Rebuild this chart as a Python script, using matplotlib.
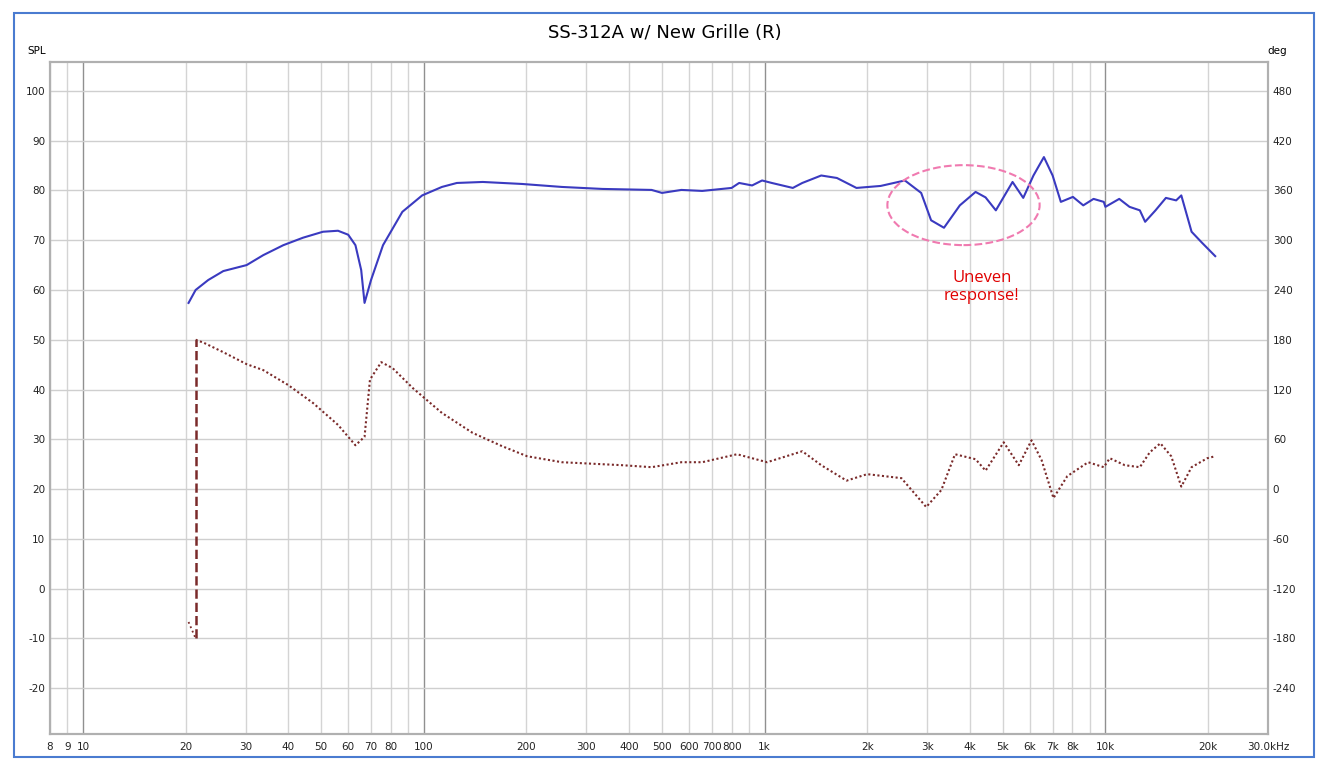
import matplotlib.pyplot as plt
from matplotlib.patches import Ellipse, Rectangle

plt.rcParams['axes.unicode_minus'] = False

# SPL magnitude (Hz, dB)
spl_f = [20.4, 21.4, 23.3, 25.8, 30.2, 33.8, 38.7, 44.2, 50.6, 56, 60, 63, 65.5, 67, 70, 75.9,
         86.5, 98.9, 113, 125, 149, 194, 254, 334, 466, 500, 570, 656, 800, 842, 919, 983, 1050,
         1210, 1290, 1466, 1630, 1860, 2190, 2580, 2880, 3080, 3360, 3740, 4160, 4450, 4770,
         5340, 5740, 6150, 6600, 7000, 7400, 8030, 8610, 9230, 9890, 10000, 10980, 11770,
         12620, 13080, 14030, 15050, 16130, 16700, 17900, 19200, 21000]
spl_db = [57.4, 60, 62, 63.8, 65, 67, 69, 70.5, 71.7, 71.9, 71.1, 69, 64, 57.4, 62, 69,
          75.7, 79, 80.7, 81.5, 81.7, 81.3, 80.7, 80.3, 80.1, 79.5, 80.1, 79.9, 80.5, 81.5, 81,
          82, 81.5, 80.5, 81.5, 83, 82.5, 80.5, 80.9, 82, 79.5, 74, 72.5, 77, 79.7, 78.6, 76,
          81.7, 78.5, 83, 86.7, 83, 77.7, 78.7, 77, 78.3, 77.7, 76.7, 78.3, 76.7,
          76, 73.7, 76, 78.5, 78, 79, 71.7, 69.5, 66.8]

# phase (Hz, deg), wrapped at ~21.4 Hz
ph_f = [20.4, 21.4, 21.4, 22.6, 25.8, 30.2, 33.8, 40, 47.3, 56, 63, 67, 69.5, 75, 81, 92.8,
        113, 139, 170, 201, 254, 382, 466, 570, 656, 830, 919, 1017, 1290, 1466, 1740, 2000,
        2520, 2980, 3300, 3620, 4160, 4450, 5030, 5570, 6070, 6500, 7040, 7730, 8900, 9890,
        10300, 11400, 12620, 13500, 14500, 15600, 16700, 17900, 19900, 21000]
ph_spl = [-6.7, -10, 50, 49.4, 47.5, 45.1, 43.9, 40.9, 37.3, 32.9, 28.8, 30.5, 42, 45.5, 44.3,
          40.3, 35.3, 31.3, 28.6, 26.6, 25.4, 24.8, 24.4, 25.4, 25.4, 27, 26.2, 25.4, 27.6,
          24.8, 21.7, 23, 22.2, 16.4, 19.8, 27, 26, 23.7, 29.4, 24.8, 29.8, 25.8, 18.2, 22.6,
          25.4, 24.4, 26.2, 24.8, 24.4, 27.4, 29.2, 26.6, 20.5, 24.4, 26.2, 26.6]
ph_deg = [(v - 20) * 6 for v in ph_spl]

x_ticks = [8, 9, 10, 20, 30, 40, 50, 60, 70, 80, 100, 200, 300, 400, 500, 600, 700, 800,
           1000, 2000, 3000, 4000, 5000, 6000, 7000, 8000, 10000, 20000, 30000]
x_labels = ['8', '9', '10', '20', '30', '40', '50', '60', '70', '80', '100', '200', '300',
            '400', '500', '600', '700', '800', '1k', '2k', '3k', '4k', '5k', '6k', '7k', '8k',
            '10k', '20k', '30.0kHz']

fig = plt.figure(figsize=(13.3, 7.73), dpi=100)
fig.patches.append(Rectangle((14 / 1330, 16 / 773), 1300 / 1330, 744 / 773, transform=fig.transFigure,
                             fill=False, edgecolor='#4a7bd0', linewidth=1.5))
ax = fig.add_axes([50 / 1330, 39 / 773, 1218 / 1330, 672 / 773])
ax.set_xscale('log')
ax.set_xlim(8.2, 30000)
ax.set_ylim(-29.2, 105.8)

# grid
for dec in [10, 100, 1000, 10000]:
    ax.axvline(dec, color='#909090', lw=1, zorder=0)
for m in [8, 9, 20, 30, 40, 50, 60, 70, 80, 90, 200, 300, 400, 500, 600, 700, 800, 900,
          2000, 3000, 4000, 5000, 6000, 7000, 8000, 9000, 20000]:
    ax.axvline(m, color='#d4d4d4', lw=1, zorder=0)
for y in range(-20, 101, 10):
    ax.axhline(y, color='#cfcfcf', lw=1, zorder=0)

ax.plot(spl_f, spl_db, color='#3a3ac0', lw=1.5, zorder=3)

ax2 = ax.twinx()
ax2.set_ylim((-29.2 - 20) * 6, (105.8 - 20) * 6)
ax2.plot(ph_f[:2], ph_deg[:2], color='#7a2a2a', lw=1.3, ls=':')
ax2.plot(ph_f[1:3], ph_deg[1:3], color='#7a2a2a', lw=1.8, ls='--')
ax2.plot(ph_f[2:], ph_deg[2:], color='#7a2a2a', lw=1.5, ls=(0, (1, 1.2)))
ax2.set_yticks(range(-240, 481, 60))

ax.set_yticks(range(-20, 101, 10))
ax.set_xticks(x_ticks)
ax.set_xticklabels(x_labels)
ax.minorticks_off()
for a in (ax, ax2):
    a.tick_params(length=0, labelsize=7.5, colors='#222222')
    for s in a.spines.values():
        s.set_color('#b0b0b0')
        s.set_linewidth(1.5)
ax.tick_params(axis='x', pad=6)

fig.text(37 / 1330, 1 - 54 / 773, 'SPL', fontsize=7.5, ha='center')
fig.text(1277 / 1330, 1 - 54 / 773, 'deg', fontsize=7.5, ha='center')
fig.text(0.5, 1 - 33 / 773, 'SS-312A w/ New Grille (R)', fontsize=13, ha='center', va='center')

ax.add_patch(Ellipse((0.750, 0.787), 0.125, 0.119, transform=ax.transAxes, fill=False,
                     edgecolor='#f07ab0', ls='--', lw=1.5, zorder=5))
ax.text(0.765, 0.665, 'Uneven\nresponse!', transform=ax.transAxes, color='#e00000',
        fontsize=12, ha='center', va='center', family='Open Sans')

fig.savefig('out.png', dpi=100)
